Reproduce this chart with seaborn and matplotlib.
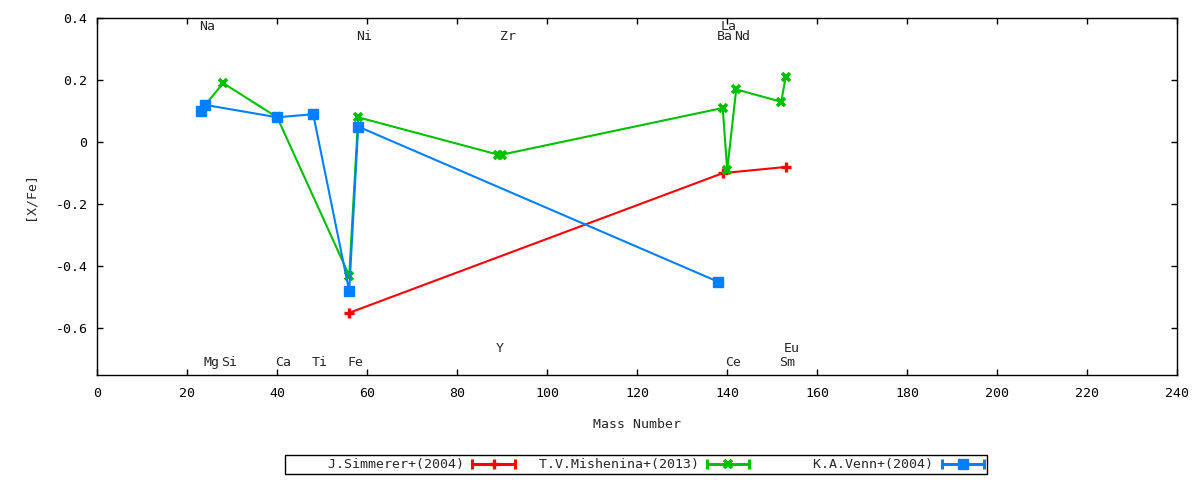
import matplotlib
matplotlib.use("Agg")
import matplotlib.pyplot as plt
from matplotlib.lines import Line2D
from matplotlib.legend_handler import HandlerLine2D, HandlerTuple
import seaborn as sns

# [X/Fe] abundances vs mass number, three literature sources
simmerer_mass = [56, 139, 153]
simmerer_xfe = [-0.55, -0.10, -0.08]

mishenina_mass = [24, 28, 40, 56, 58, 89, 90, 139, 140, 142, 152, 153]
mishenina_xfe = [0.12, 0.19, 0.08, -0.43, 0.08, -0.04, -0.04, 0.11, -0.09, 0.17, 0.13, 0.21]

venn_mass = [23, 24, 40, 48, 56, 58, 138]
venn_xfe = [0.10, 0.12, 0.08, 0.09, -0.48, 0.05, -0.45]

# element name labels
elem_names = ["Na", "Mg", "Si", "Ca", "Ti", "Fe", "Ni", "Y", "Zr", "Ba", "La", "Ce", "Nd", "Sm", "Eu"]
elem_mass = [23, 24, 28, 40, 48, 56, 58, 89, 90, 138, 139, 140, 142, 152, 153]
elem_label_y = [0.373, -0.71, -0.71, -0.71, -0.71, -0.71, 0.34, -0.665, 0.34, 0.34, 0.373, -0.71, 0.34, -0.71, -0.665]

xticks = list(range(0, 241, 20))
yticks = [0.4, 0.2, 0.0, -0.2, -0.4, -0.6]

sns.set_style("ticks")
plt.rcParams["font.family"] = ["DejaVu Sans Mono"]
plt.rcParams["font.size"] = 9.5
plt.rcParams["axes.unicode_minus"] = False

fig = plt.figure(figsize=(12, 4.8), dpi=100)
ax = fig.add_axes([0.081, 0.219, 0.9, 0.7435])

series = [
    ("J.Simmerer+(2004)", simmerer_mass, simmerer_xfe, "#ff0000", "+", 7, 2.4),
    ("T.V.Mishenina+(2013)", mishenina_mass, mishenina_xfe, "#00c000", "x", 6, 2.6),
    ("K.A.Venn+(2004)", venn_mass, venn_xfe, "#0080ff", "s", 6.5, 1.0),
]
handles, labels, hmap = [], [], {}
for name, xs, ys, col, mk, ms, mew in series:
    sns.lineplot(x=xs, y=ys, ax=ax, sort=False, estimator=None, color=col,
                 linewidth=1.5, marker=mk, markersize=ms, markeredgewidth=mew,
                 markeredgecolor=col, markerfacecolor=col, legend=False)
    # gnuplot-like key sample: |---o---|
    body = Line2D([], [], color=col, linewidth=2.2, marker=mk, markersize=ms,
                  markeredgewidth=mew, markeredgecolor=col, markerfacecolor=col)
    caps = Line2D([], [], color=col, linestyle="none", marker="|", markersize=7,
                  markeredgewidth=2.2)
    hmap[body] = HandlerLine2D(numpoints=1)
    hmap[caps] = HandlerLine2D(numpoints=2, marker_pad=0)
    handles.append((body, caps))
    labels.append(name.rjust(22))
hmap[tuple] = HandlerTuple(ndivide=1)

for nm, m, yy in zip(elem_names, elem_mass, elem_label_y):
    ax.text(m - 0.4, yy, nm, ha="left", va="center", fontsize=9.5)

ax.set_xlim(0, 240)
ax.set_ylim(-0.75, 0.4)
ax.set_xticks(xticks)
ax.set_yticks(yticks)
ax.set_yticklabels([f"{v:g}" for v in yticks])
ax.tick_params(direction="in", length=4, width=1, top=True, right=True, colors="black")
ax.tick_params(axis="x", pad=9)
ax.tick_params(axis="y", pad=7)
for sp in ax.spines.values():
    sp.set_color("black")
    sp.set_linewidth(1)

ax.set_xlabel("Mass Number", labelpad=13)
ax.set_ylabel("[X/Fe]", labelpad=14)

leg = fig.legend(handles, labels, handler_map=hmap, loc="center",
                 bbox_to_anchor=(0.53, 0.032), ncol=3,
                 markerfirst=False, frameon=True, fancybox=False, framealpha=1,
                 edgecolor="black", handlelength=3.2, handletextpad=0.65,
                 columnspacing=0.6, borderpad=0.25, borderaxespad=0)
leg.get_frame().set_linewidth(1)

fig.savefig("out.png", dpi=100)
